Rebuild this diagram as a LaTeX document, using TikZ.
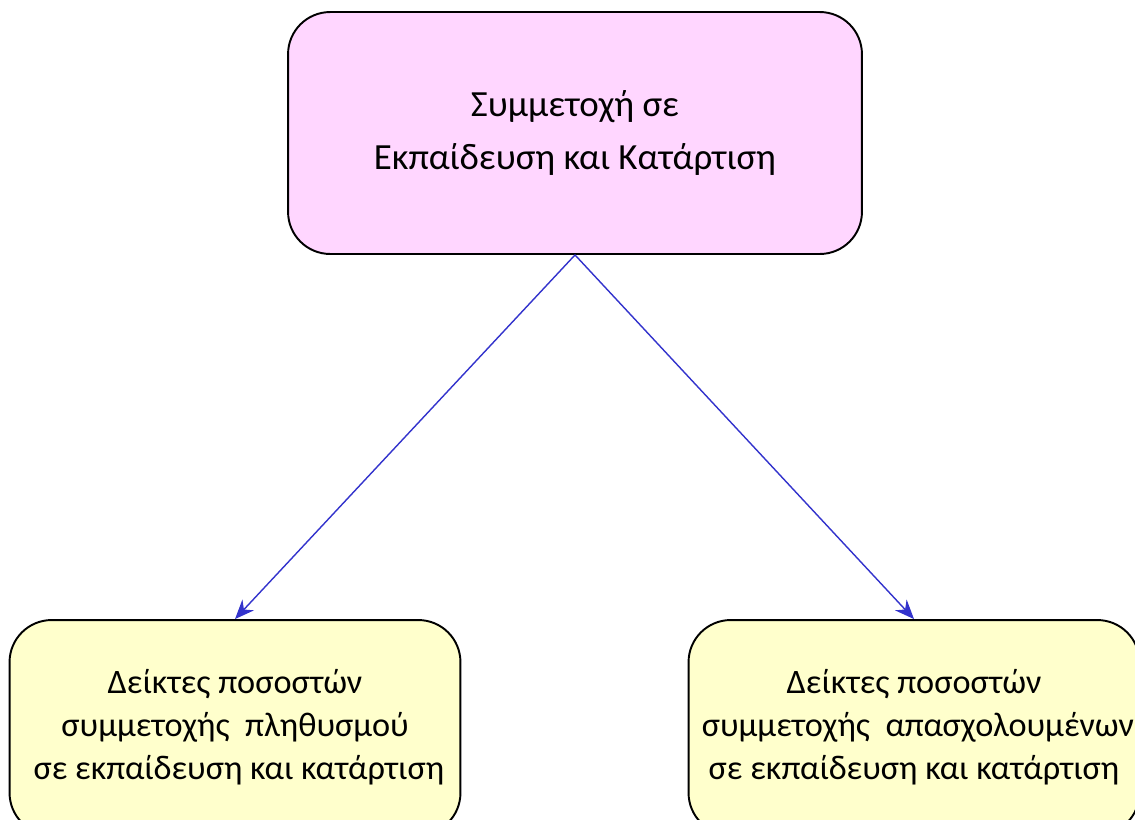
\documentclass[tikz,border=0pt]{standalone}
\usepackage{fontspec}
\setmainfont{Carlito}
\usetikzlibrary{arrows.meta,positioning}
\definecolor{boxpink}{RGB}{255,214,255}
\definecolor{boxyellow}{RGB}{255,255,204}
\definecolor{arrblue}{RGB}{51,51,204}
\begin{document}
\begin{tikzpicture}[x=0.02cm, y=-0.02cm,
  box/.style={draw, line width=1.1pt, rounded corners=24pt, align=center, inner sep=0pt},
  topbox/.style={box, fill=boxpink, minimum width=11.48cm, minimum height=4.84cm, font=\fontsize{21}{30}\selectfont},
  leafbox/.style={box, fill=boxyellow, minimum width=9.02cm, minimum height=4.3cm, font=\fontsize{19.5}{24.5}\selectfont},
  arr/.style={-{Stealth[length=11pt, width=9pt]}, line width=0.8pt, arrblue}
]
  \useasboundingbox (0,0) rectangle (1135,819);
  \node[topbox] (part) at (575,133) {Συμμετοχή σε\\Εκπαίδευση και Κατάρτιση};
  \node[leafbox] (pop) at (235,727.5) {Δείκτες ποσοστών\\συμμετοχής\ \ πληθυσμού\ \\\ σε εκπαίδευση και κατάρτιση};
  \node[leafbox] (emp) at (914,727.5) {Δείκτες ποσοστών\\\ συμμετοχής\ \ απασχολουμένων\\σε εκπαίδευση και κατάρτιση};

  \draw[arr] (part.south) -- (pop.north);
  \draw[arr] (part.south) -- (emp.north);
\end{tikzpicture}
\end{document}
